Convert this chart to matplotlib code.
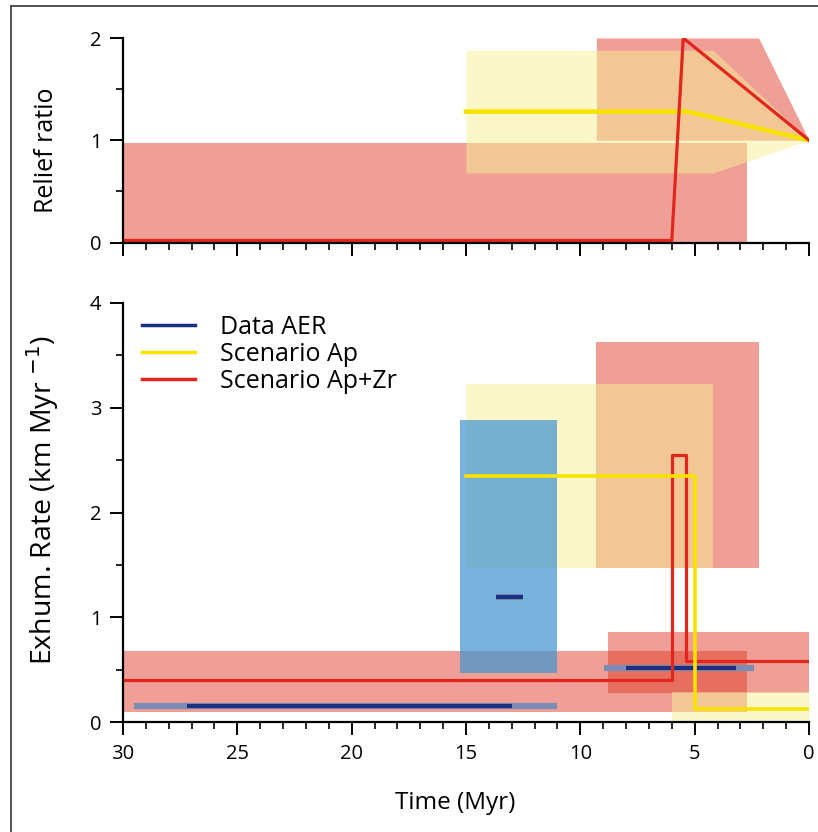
import numpy as np
import matplotlib
matplotlib.use("Agg")
import matplotlib.pyplot as plt
from matplotlib.lines import Line2D

plt.rcParams['font.family'] = ['Open Sans', 'DejaVu Sans']

# ---- top panel: relief ratio ----
relief_ap_t = [15, 5.3, 0]
relief_ap = [1.28, 1.28, 1.0]
relief_zr_t = [30, 6.0, 5.5, 0]
relief_zr = [0.02, 0.02, 2.0, 1.0]

# envelopes (time, lower, upper)
relief_ap_env_t = [15, 4.2, 0]
relief_ap_env_lo = [0.68, 0.68, 1.0]
relief_ap_env_hi = [1.88, 1.88, 1.0]
relief_zr_env1_t = [30, 2.7]
relief_zr_env1_lo = [0.0, 0.0]
relief_zr_env1_hi = [0.97, 0.97]
relief_zr_env2_t = [9.3, 2.2, 0]
relief_zr_env2_lo = [1.0, 1.0, 1.0]
relief_zr_env2_hi = [2.0, 2.0, 1.0]

# ---- bottom panel: exhumation rate ----
exh_ap_t = [15, 5.0, 5.0, 0]
exh_ap = [2.35, 2.35, 0.12, 0.12]
exh_zr_t = [30, 6.0, 6.0, 5.4, 5.4, 0]
exh_zr = [0.4, 0.4, 2.55, 2.55, 0.58, 0.58]

# boxes: (t_old, t_young, lo, hi)
exh_zr_boxes = [(30, 2.7, 0.1, 0.68), (9.3, 2.2, 1.47, 3.63), (8.8, 0, 0.28, 0.86)]
exh_ap_boxes = [(15, 4.2, 1.47, 3.23), (6.0, 0, 0.0, 0.29)]
aer_box = (15.25, 11.0, 0.47, 2.88)

# data AER: (rate, outer range, inner range)
aer_rate = [0.15, 0.52, 1.19]
aer_outer = [(29.5, 11.0), (8.95, 2.4), (13.7, 12.5)]
aer_inner = [(27.2, 13.0), (8.0, 3.2), (13.7, 12.5)]

red_fill = '#e1412d'
yel_fill = '#f8f095'
blue_fill = '#4494d0'
red_line = '#e2261e'
yel_line = '#f7e200'
blue_dark = '#1b2f80'
blue_light = '#7d8cb2'

fig = plt.figure(figsize=(8.18, 8.32), dpi=100)
ax1 = fig.add_axes([123 / 818, 1 - 242.5 / 832, 686 / 818, 204.5 / 832])
ax2 = fig.add_axes([123 / 818, 1 - 722 / 832, 686 / 818, 419 / 832])

# top panel
ax1.fill_between(relief_zr_env1_t, relief_zr_env1_lo, relief_zr_env1_hi,
                 color=red_fill, alpha=0.5, lw=0)
ax1.fill_between(relief_zr_env2_t, relief_zr_env2_lo, relief_zr_env2_hi,
                 color=red_fill, alpha=0.5, lw=0)
ax1.fill_between(relief_ap_env_t, relief_ap_env_lo, relief_ap_env_hi,
                 color=yel_fill, alpha=0.5, lw=0)
ax1.plot(relief_ap_t, relief_ap, color=yel_line, lw=3.3)
ax1.plot(relief_zr_t, relief_zr, color=red_line, lw=2.3)
ax1.set_ylim(0, 2)
ax1.set_yticks([0, 1, 2])
ax1.set_yticks([0.5, 1.5], minor=True)
ax1.set_ylabel('Relief ratio', fontsize=18)
ax1.yaxis.set_label_coords(-0.094, 0.45)
ax1.tick_params(axis='x', labelbottom=False)

# bottom panel
for t0, t1, lo, hi in exh_zr_boxes:
    ax2.fill_between([t0, t1], lo, hi, color=red_fill, alpha=0.5, lw=0)
for t0, t1, lo, hi in exh_ap_boxes:
    ax2.fill_between([t0, t1], lo, hi, color=yel_fill, alpha=0.5, lw=0)
ax2.fill_between(aer_box[:2], aer_box[2], aer_box[3], color=blue_fill, alpha=0.72, lw=0)

for r, (a, b) in zip(aer_rate, aer_outer):
    ax2.plot([a, b], [r, r], color=blue_light, lw=4.5, solid_capstyle='butt')
for r, (a, b) in zip(aer_rate, aer_inner):
    ax2.plot([a, b], [r, r], color=blue_dark, lw=3, solid_capstyle='butt')

ax2.plot(exh_zr_t, exh_zr, color=red_line, lw=2.3, solid_joinstyle='round')
ax2.plot(exh_ap_t, exh_ap, color=yel_line, lw=2.6)

ax2.set_ylim(0, 4)
ax2.set_yticks([0, 1, 2, 3, 4])
ax2.set_yticks([0.5, 1.5, 2.5, 3.5], minor=True)
ax2.set_ylabel('Exhum. Rate (km Myr $^{-1}$)', fontsize=20.5)
ax2.yaxis.set_label_coords(-0.09, 0.53)
ax2.set_xlabel('Time (Myr)', fontsize=17.5)
ax2.xaxis.set_label_coords(0.484, -0.165)

handles = [Line2D([], [], color=blue_dark, lw=2.5),
           Line2D([], [], color=yel_line, lw=2.5),
           Line2D([], [], color=red_line, lw=2.5)]
ax2.legend(handles, ['Data AER', 'Scenario Ap', 'Scenario Ap+Zr'],
           loc='upper left', bbox_to_anchor=(-0.005, 1.025), frameon=False,
           fontsize=18, handlelength=2.1, handletextpad=1.0, labelspacing=0.08)

for ax in (ax1, ax2):
    ax.set_xlim(30, 0)
    ax.set_xticks(np.arange(30, -1, -5))
    ax.set_xticks(np.arange(30, -1, -1), minor=True)
    for s in ('top', 'right'):
        ax.spines[s].set_visible(False)
    for s in ('left', 'bottom'):
        ax.spines[s].set_linewidth(1.6)
    ax.tick_params(which='major', direction='out', length=9.5, width=1.4,
                   labelsize=14.5, pad=6)
    ax.tick_params(which='minor', direction='out', length=5, width=1.2)
    ax.patch.set_alpha(0)

# picture frame on top and left
fig.add_artist(Line2D([11 / 818, 11 / 818], [0, 1 - 6 / 832], color='#444444', lw=1.3))
fig.add_artist(Line2D([11 / 818, 1], [1 - 6 / 832, 1 - 6 / 832], color='#444444', lw=1.3))

fig.savefig('out.png', dpi=100)
